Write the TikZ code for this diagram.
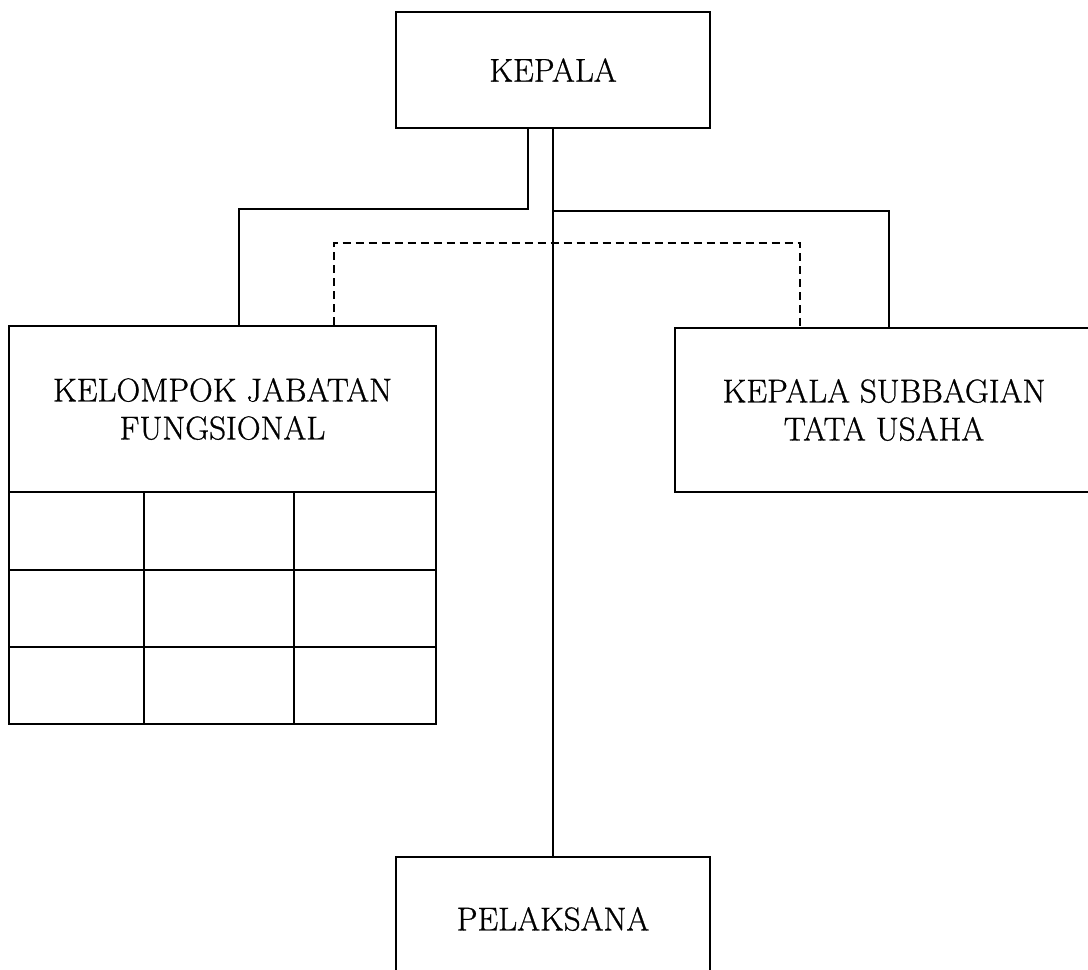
\documentclass[tikz,border=0pt]{standalone}
\usepackage{fontspec}
\newfontfamily\boxfont{Latin Modern Roman}[FakeBold=0.8]
\usepackage{tikz}
\begin{document}
\begin{tikzpicture}[x=1pt,y=-1pt,
  box/.style={draw=black,line width=2pt,rectangle,inner sep=0pt,align=center,
    font=\boxfont\fontsize{33}{38}\selectfont},
  cell/.style={draw=black,line width=2pt,rectangle,inner sep=0pt},
  conn/.style={draw=black,line width=2pt},
  dconn/.style={draw=black,line width=2pt,dash pattern=on 8pt off 5pt}]
\useasboundingbox (0,0) rectangle (1088,970);
% boxes
\node[box,minimum width=314pt,minimum height=116pt] (kepala) at (553,70) {KEPALA};
\node[box,minimum width=427pt,minimum height=166pt] (kjf) at (222.5,409) {KELOMPOK JABATAN\\FUNGSIONAL};
\node[box,minimum width=418pt,minimum height=164pt] (ksub) at (884,410) {KEPALA SUBBAGIAN\\TATA USAHA};
\node[box,minimum width=314pt,minimum height=124pt] (pel) at (553,919) {PELAKSANA};
% grid cells
\node[cell,minimum width=135pt,minimum height=78pt] (c11) at (76.5,531) {};
\node[cell,minimum width=150pt,minimum height=78pt] (c12) at (219,531) {};
\node[cell,minimum width=142pt,minimum height=78pt] (c13) at (365,531) {};
\node[cell,minimum width=135pt,minimum height=77pt] (c21) at (76.5,608.5) {};
\node[cell,minimum width=150pt,minimum height=77pt] (c22) at (219,608.5) {};
\node[cell,minimum width=142pt,minimum height=77pt] (c23) at (365,608.5) {};
\node[cell,minimum width=135pt,minimum height=77pt] (c31) at (76.5,685.5) {};
\node[cell,minimum width=150pt,minimum height=77pt] (c32) at (219,685.5) {};
\node[cell,minimum width=142pt,minimum height=77pt] (c33) at (365,685.5) {};
% connector helper coordinates
\coordinate (lx) at (528,0);
\coordinate (lbend) at (528,208.5);
\coordinate (ljx) at (239,0);
\coordinate (rbr) at (553,211);
\coordinate (rjx) at (888.5,0);
\coordinate (dlx) at (334,0);
\coordinate (dtop) at (334,242.5);
\coordinate (drx) at (800,0);
% connectors
\draw[conn] (kepala.south -| lx) -- (lbend) -| (kjf.north -| ljx);
\draw[conn] (kepala.south) -- (pel.north);
\draw[conn] (rbr) -| (ksub.north -| rjx);
\draw[dconn] (kjf.north -| dlx) -- (dtop) -| (ksub.north -| drx);
\end{tikzpicture}
\end{document}
